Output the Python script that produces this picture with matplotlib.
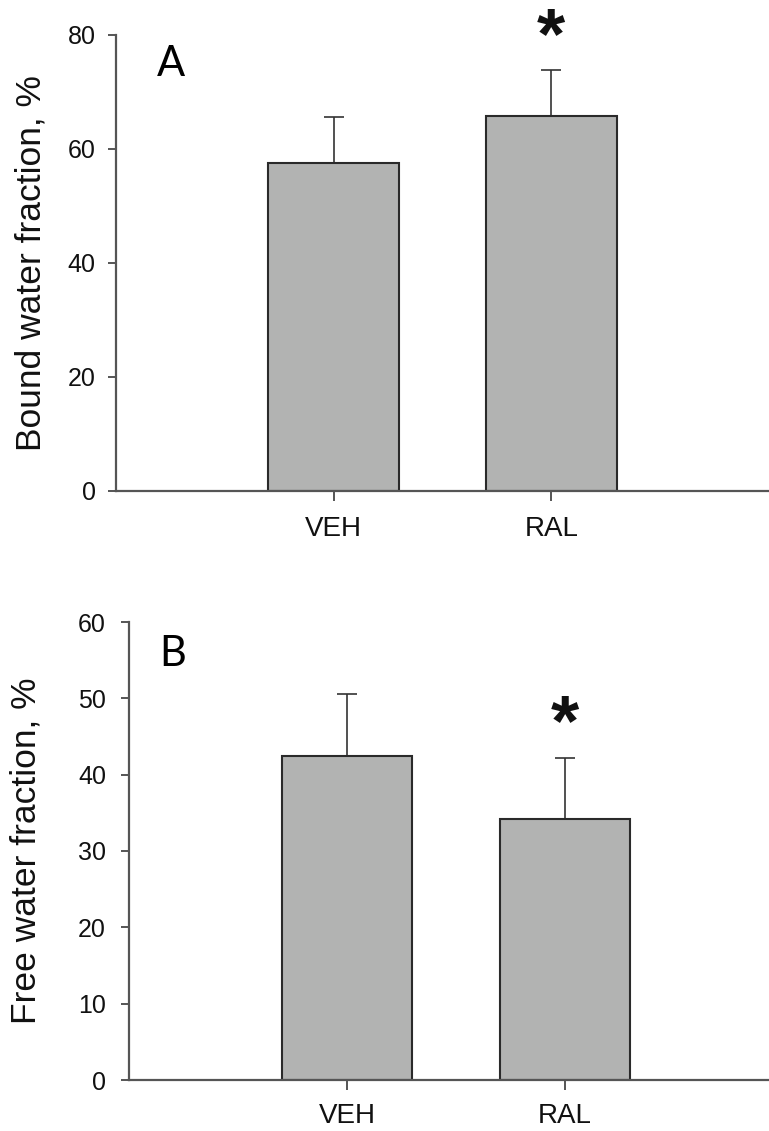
import matplotlib
matplotlib.use("Agg")
import matplotlib.pyplot as plt

categories = ["VEH", "RAL"]
bound_means = [57.5, 65.8]
bound_err = [8.1, 8.0]
free_means = [42.45, 34.2]
free_err = [8.1, 8.0]
bound_ticks = [0, 20, 40, 60, 80]
free_ticks = [0, 10, 20, 30, 40, 50, 60]

plt.rcParams['font.family'] = ['Liberation Sans', 'DejaVu Sans']

W, H = 769, 1131
fig = plt.figure(figsize=(W / 100, H / 100), dpi=100)

bar_color = "#b2b3b2"
edge = "#2a2a2a"
spine_c = "#555555"

def panel(rect, means, errs, ticks, ylim, xlim, ylabel, ylabel_x, letter, letter_xy, star_y, xpad, ypad):
    ax = fig.add_axes(rect)
    x = [1, 2]
    ax.bar(x, means, width=0.6, color=bar_color, edgecolor=edge, linewidth=1.5, zorder=2)
    ax.errorbar(x, means, yerr=[[0, 0], errs], fmt='none', ecolor="#333333",
                elinewidth=1.2, capsize=7, capthick=1.2, zorder=1)
    ax.set_xlim(*xlim)
    ax.set_ylim(*ylim)
    ax.set_xticks(x)
    ax.set_xticklabels(categories, fontsize=20)
    ax.set_yticks(ticks)
    ax.set_yticklabels([str(t) for t in ticks], fontsize=18)
    for s in ["top", "right"]:
        ax.spines[s].set_visible(False)
    for s in ["left", "bottom"]:
        ax.spines[s].set_color(spine_c)
        ax.spines[s].set_linewidth(1.6)
    ax.tick_params(axis='y', length=6, width=1.4, color=spine_c, pad=ypad, labelcolor="#111111")
    ax.tick_params(axis='x', length=7, width=1.4, color=spine_c, pad=xpad, labelcolor="#111111")
    ax.set_ylabel(ylabel, fontsize=25.5, color="#111111", va='center')
    ax.yaxis.set_label_coords(ylabel_x, 0.5)
    ax.text(letter_xy[0], letter_xy[1], letter, fontsize=30, family=['Lato', 'DejaVu Sans'],
            ha='left', va='baseline', color="#000000")
    ax.text(2, star_y, "*", fontsize=52, fontweight='bold', ha='center', va='center',
            color="#111111", clip_on=False)
    return ax

ax1 = panel([116 / W, 1 - 491 / H, 1 - 116 / W, (491 - 35) / H],
            bound_means, bound_err, bound_ticks, (0, 80), (0, 3),
            "Bound water fraction, %", (31 - 116) / 653, "A", (0.19, 72.8), 79.3, 11, 8.5)
ax2 = panel([129 / W, 1 - 1080 / H, 1 - 129 / W, (1080 - 622) / H],
            free_means, free_err, free_ticks, (0, 60), (0, 640 / 218),
            "Free water fraction, %", (26 - 129) / 640, "B", (0.14, 54.3), 46.4, 9.5, 10.5)

fig.savefig("out.png", dpi=100)
